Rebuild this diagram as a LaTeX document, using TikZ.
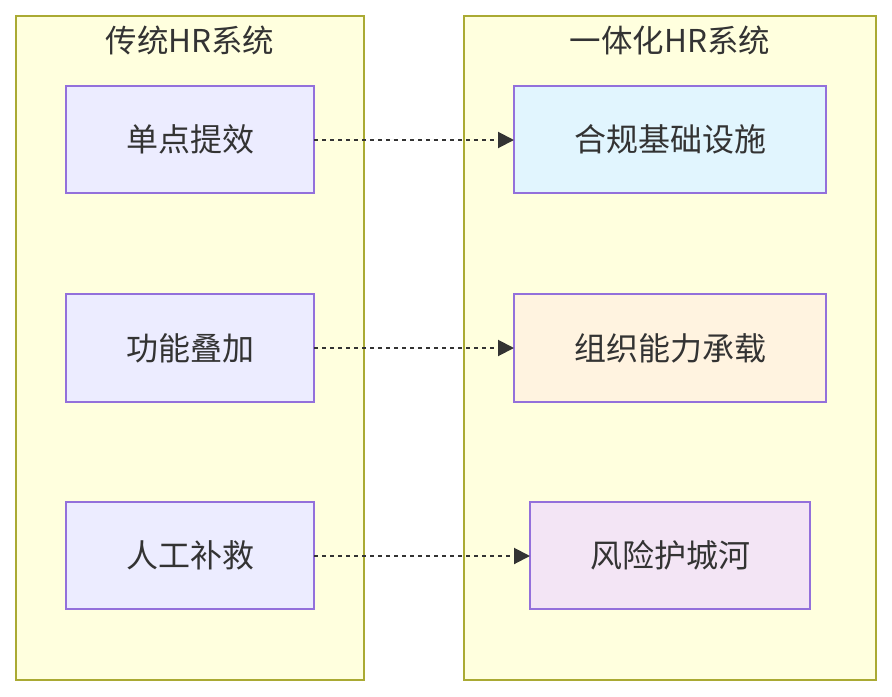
\documentclass[tikz,border=0pt]{standalone}
\usepackage{fontspec}
\setmainfont{Noto Sans CJK SC}
\usetikzlibrary{arrows.meta}
\definecolor{clfill}{HTML}{FFFFDE}
\definecolor{clline}{HTML}{AAAA33}
\definecolor{ndline}{HTML}{9370DB}
\definecolor{ndfill}{HTML}{ECECFF}
\definecolor{bluefill}{HTML}{E1F5FE}
\definecolor{orangefill}{HTML}{FFF3E0}
\definecolor{purplefill}{HTML}{F3E5F5}
\definecolor{txt}{HTML}{333333}
\begin{document}
\begin{tikzpicture}[x=0.75pt,y=-0.75pt,
  cluster/.style={draw=clline,fill=clfill,line width=1.5pt},
  ctitle/.style={text=txt,font=\fontsize{23.6pt}{27pt}\selectfont,anchor=center,inner sep=0pt},
  box/.style={draw=ndline,line width=1.5pt,text=txt,font=\fontsize{24pt}{28pt}\selectfont},
  link/.style={draw=txt,line width=1.5pt,dash pattern=on 3pt off 3pt,-{Triangle[length=12pt,width=12pt]}}]
\useasboundingbox (0,0) rectangle (892,696);
\fill[white] (0,0) rectangle (892,696);
\draw[cluster] (16,16) rectangle (364,680);
\draw[cluster] (464,16) rectangle (876,680);
\node[ctitle] (t1) at (190,40) {传统HR系统};
\node[ctitle] (t2) at (670,40) {一体化HR系统};
\path[box,fill=ndfill] (66,86) rectangle (314,193) node[midway] (a1) {单点提效};
\path[box,fill=ndfill] (66,294) rectangle (314,402) node[midway] (a2) {功能叠加};
\path[box,fill=ndfill] (66,502) rectangle (314,609) node[midway] (a3) {人工补救};
\path[box,fill=bluefill] (514,86) rectangle (826,193) node[midway] (b1) {合规基础设施};
\path[box,fill=orangefill] (514,294) rectangle (826,402) node[midway] (b2) {组织能力承载};
\path[box,fill=purplefill] (530,502) rectangle (810,609) node[midway] (b3) {风险护城河};
\coordinate (a1e) at (314,140); \coordinate (b1w) at (514,140);
\coordinate (a2e) at (314,348); \coordinate (b2w) at (514,348);
\coordinate (a3e) at (314,556); \coordinate (b3w) at (530,556);
\draw[link] (a1e) -- (b1w);
\draw[link] (a2e) -- (b2w);
\draw[link] (a3e) -- (b3w);
\end{tikzpicture}
\end{document}
